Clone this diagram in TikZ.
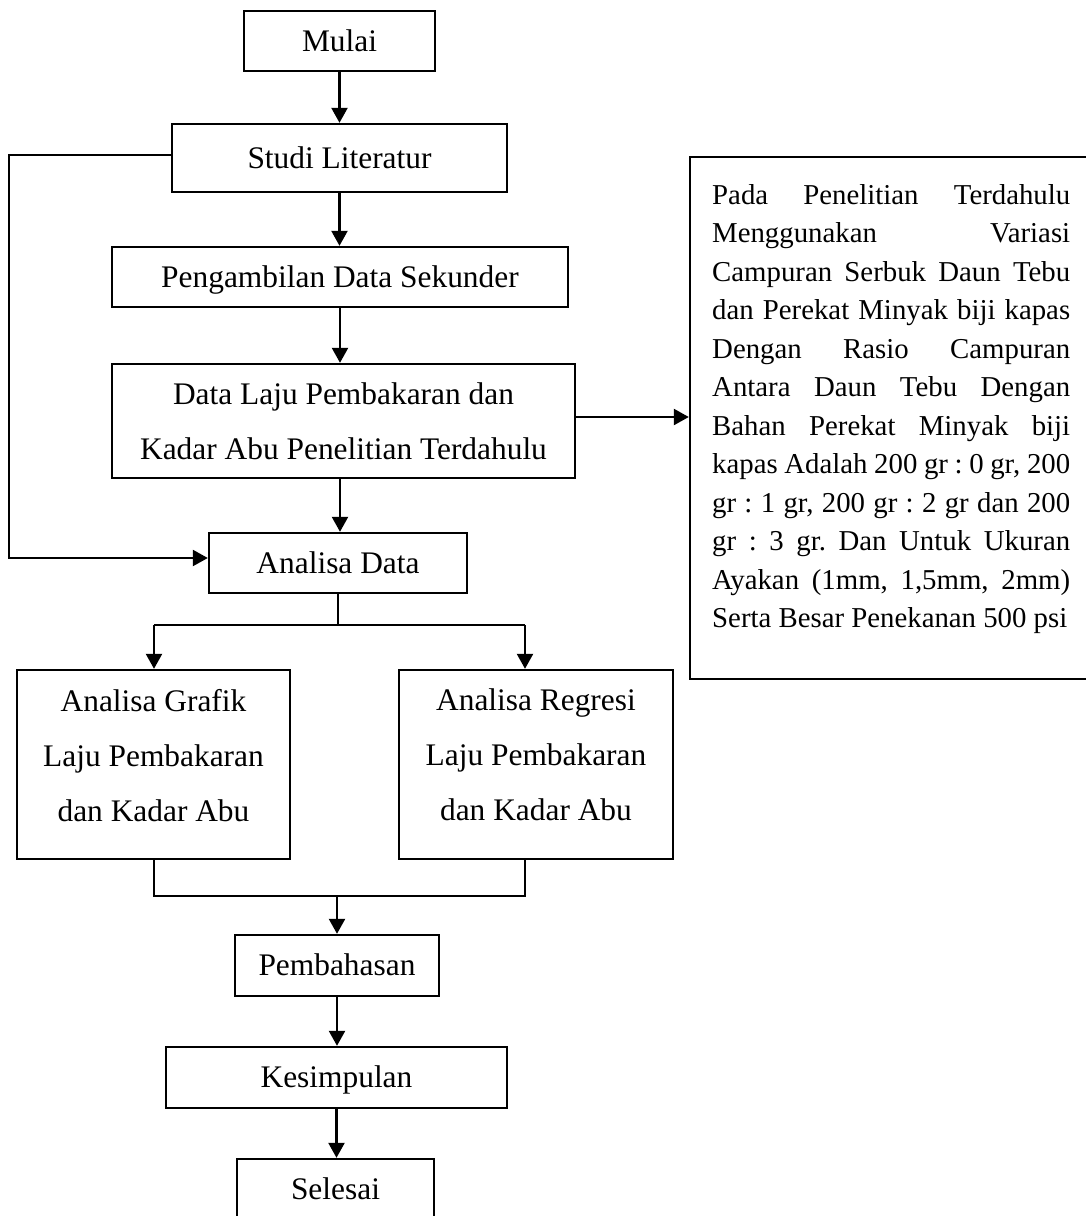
\documentclass[tikz,border=0pt]{standalone}
\usepackage{fontspec}
\setmainfont{Liberation Serif}
\usetikzlibrary{arrows.meta}
\begin{document}
\begin{tikzpicture}[x=0.5pt,y=-0.5pt,
  line width=1.2pt,
  sbox/.style={draw, line width=1.2pt, inner sep=0pt, font=\fontsize{15.7}{27.5}\selectfont, text height=10.4pt, text depth=0pt},
  mbox/.style={draw, line width=1.2pt, inner sep=0pt, align=center, font=\fontsize{15.7}{27.5}\selectfont},
  arr/.style={-{Triangle[length=7.5pt,width=8pt]}, line width=1.2pt},
  ln/.style={line width=1.2pt}]
\fill[white] (0,0) rectangle (1086,1216);
\useasboundingbox (0,0) rectangle (1086,1216);

\node[sbox, minimum width=95.5pt, minimum height=30pt] (mulai) at (339.5,41) {Mulai};
\node[sbox, minimum width=167.5pt, minimum height=34pt] (studi) at (339.5,158) {Studi Literatur};
\node[sbox, minimum width=228pt, minimum height=30pt] (ambil) at (340,277) {Pengambilan Data Sekunder};
\node[mbox, minimum width=231.5pt, minimum height=57pt] (laju) at (343.5,421) {Data Laju Pembakaran dan\\Kadar Abu Penelitian Terdahulu};
\node[sbox, minimum width=129pt, minimum height=30pt] (analisa) at (338,563) {Analisa Data};
\node[mbox, text depth=9.5pt, minimum width=136.5pt, minimum height=94.5pt] (grafik) at (153.5,764.5) {Analisa Grafik\\Laju Pembakaran\\dan Kadar Abu};
\node[mbox, text depth=9.5pt, minimum width=137pt, minimum height=94.5pt] (regresi) at (536,764.5) {Analisa Regresi\\Laju Pembakaran\\dan Kadar Abu};
\node[sbox, minimum width=102pt, minimum height=30.5pt] (bahas) at (337,965.5) {Pembahasan};
\node[sbox, minimum width=170.5pt, minimum height=30.5pt] (simpul) at (336.5,1077.5) {Kesimpulan};
\node[sbox, minimum width=98.5pt, minimum height=30.5pt] (selesai) at (335.5,1189.5) {Selesai};

\node[draw, line width=1.2pt, minimum width=201pt, minimum height=261pt, inner sep=0pt] (rbox) at (891,418) {};
\node[anchor=north west, inner sep=0pt, text width=179pt, align=justify,
      font=\fontsize{14.4}{19.25}\selectfont\frenchspacing] (rtext) at (711,183)
 {Pada Penelitian Terdahulu\linebreak
  Menggunakan Variasi\linebreak
  Campuran Serbuk Daun Tebu\linebreak
  dan Perekat Minyak biji kapas\linebreak
  Dengan Rasio Campuran\linebreak
  Antara Daun Tebu Dengan\linebreak
  Bahan Perekat Minyak biji\linebreak
  kapas Adalah 200 gr : 0 gr, 200\linebreak
  gr : 1 gr, 200 gr : 2 gr dan 200\linebreak
  gr : 3 gr. Dan Untuk Ukuran\linebreak
  Ayakan (1mm, 1,5mm, 2mm)\linebreak
  Serta Besar Penekanan 500 psi};

% main chain
\draw[arr] (mulai.south) -- (mulai.south |- studi.north);
\draw[arr] (studi.south) -- (studi.south |- ambil.north);
\draw[arr] (ambil.south) -- (ambil.south |- laju.north);
\draw[arr] (ambil.south |- laju.south) -- (ambil.south |- analisa.north);

% loop from Studi Literatur to Analisa Data
\coordinate (lft) at (9,155);
\coordinate (lb) at (9,558);
\draw[arr] (studi.west |- lft) -- (lft) -- (lb) -- (lb -| analisa.west);

% to the right box
\coordinate (rj) at (575,417);
\draw[arr] (rj -| laju.east) -- (rj -| rbox.west);

% branch
\coordinate (bL) at (154,625);
\coordinate (bR) at (525,625);
\draw[ln] (analisa.south) -- (analisa.south |- bL);
\draw[ln] (bL) -- (bR);
\draw[arr] (bL) -- (bL |- grafik.north);
\draw[arr] (bR) -- (bR |- regresi.north);

% merge
\coordinate (mL) at (154,896);
\coordinate (mR) at (525,896);
\draw[ln] (mL |- grafik.south) -- (mL) -- (mR) -- (mR |- regresi.south);
\draw[arr] (bahas.north |- mL) -- (bahas.north);
\draw[arr] (bahas.south) -- (bahas.south |- simpul.north);
\draw[arr] (simpul.south) -- (simpul.south |- selesai.north);
\end{tikzpicture}
\end{document}
